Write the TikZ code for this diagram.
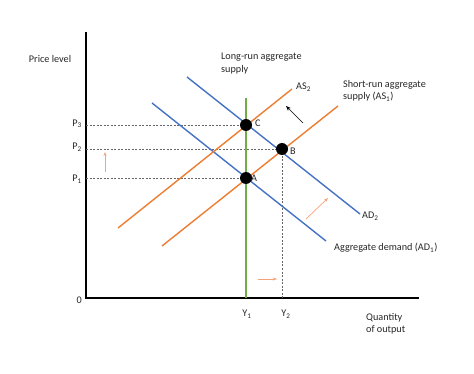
\documentclass[tikz,border=0pt]{standalone}
\usepackage{fontspec}
\setmainfont{Carlito}
\usetikzlibrary{arrows.meta}
\definecolor{adblue}{HTML}{4472C4}
\definecolor{asorange}{HTML}{ED7D31}
\definecolor{lrgreen}{HTML}{70AD47}
\definecolor{lightor}{HTML}{F4A27A}
\begin{document}
\begin{tikzpicture}[x=1pt,y=-1pt,
  lbl/.style={font=\fontsize{10.2}{12.5}\selectfont, inner sep=0pt, text=black!85},
  dot/.style={circle, fill=black, minimum size=12pt, inner sep=0pt},
  curveb/.style={adblue, line width=1.4pt},
  curveo/.style={asorange, line width=1.4pt},
  guide/.style={dashed, gray!80!black, line width=0.6pt, dash pattern=on 2pt off 1.5pt},
  shiftarrow/.style={lightor, line width=0.7pt, -{Stealth[length=4pt,width=3pt]}},
  axisline/.style={black, line width=1.2pt}]
\useasboundingbox (0,0) rectangle (474,374);
% axes
\coordinate (O) at (86,298);
\coordinate (ytop) at (86,32);
\coordinate (xend) at (419,298);
\draw[axisline] (ytop) -- (O) -- (xend);
% equilibrium points
\coordinate (A) at (246,178);
\coordinate (B) at (282,149);
\coordinate (C) at (246,125);
\coordinate (p1) at (86,178);
\coordinate (p2) at (86,149);
\coordinate (p3) at (86,125);
\coordinate (y2) at (282,298);
% guides
\draw[guide] (p3) -- (C);
\draw[guide] (p2) -- (B);
\draw[guide] (p1) -- (A);
\draw[guide] (B) -- (y2);
% LRAS
\coordinate (lrtop) at (246,98);
\coordinate (lrbot) at (246,298);
\draw[lrgreen, line width=1.4pt] (lrtop) -- (lrbot);
% AD curves
\coordinate (ad1s) at (152,103);
\coordinate (ad1e) at (326,241);
\coordinate (ad2s) at (187,77);
\coordinate (ad2e) at (360,214);
\draw[curveb] (ad1s) -- (ad1e);
\draw[curveb] (ad2s) -- (ad2e);
% AS curves
\coordinate (as1s) at (162,246);
\coordinate (as1e) at (338,106);
\coordinate (as2s) at (118,228);
\coordinate (as2e) at (292,89);
\draw[curveo] (as1s) -- (as1e);
\draw[curveo] (as2s) -- (as2e);
% dots
\node[dot] (dA) at (A) {};
\node[dot] (dB) at (B) {};
\node[dot] (dC) at (C) {};
\node[lbl, anchor=west] (lA) at (251,178) {A};
\node[lbl, anchor=west] (lB) at (290,151) {B};
\node[lbl, anchor=west] (lC) at (255,123) {C};
% arrows
\coordinate (ba1) at (303,123);
\coordinate (ba2) at (286,106);
\draw[black, line width=0.7pt, -{Stealth[length=5pt,width=4pt]}] (ba1) -- (ba2);
\coordinate (va1) at (105,172);
\coordinate (va2) at (105,152);
\draw[shiftarrow] (va1) -- (va2);
\coordinate (da1) at (306,219);
\coordinate (da2) at (328,198);
\draw[shiftarrow] (da1) -- (da2);
\coordinate (ha1) at (258,279);
\coordinate (ha2) at (277,279);
\draw[shiftarrow] (ha1) -- (ha2);
% labels
\node[lbl] (price) at (50,59) {Price level};
\node[lbl, anchor=east] (zero) at (82,300) {0};
\node[lbl, anchor=east] (P3) at (82,124) {P\textsubscript{3}};
\node[lbl, anchor=east] (P2) at (82,147) {P\textsubscript{2}};
\node[lbl, anchor=east] (P1) at (82,179) {P\textsubscript{1}};
\node[lbl] (Y1) at (247,314) {Y\textsubscript{1}};
\node[lbl] (Y2) at (286,314) {Y\textsubscript{2}};
\node[lbl, anchor=north west, align=left] (qty) at (366,313) {Quantity\\of output};
\node[lbl, anchor=north west, align=left] (lras) at (221,53) {Long-run aggregate\\supply};
\node[lbl, anchor=north west, align=left] (sras) at (343,80) {Short-run aggregate\\supply (AS\textsubscript{1})};
\node[lbl, anchor=west] (as2l) at (296,87) {AS\textsubscript{2}};
\node[lbl, anchor=west] (ad2l) at (362,216) {AD\textsubscript{2}};
\node[lbl, anchor=west] (ad1l) at (334,248) {Aggregate demand (AD\textsubscript{1})};
\end{tikzpicture}
\end{document}
